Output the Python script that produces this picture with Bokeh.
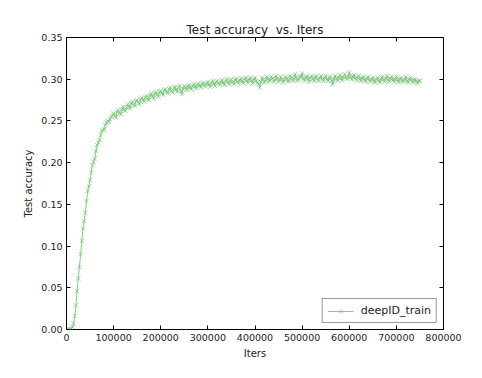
from bokeh.plotting import figure
from bokeh.models import Range1d, NumeralTickFormatter, LinearAxis, FixedTicker, Legend, LegendItem, CustomJSTickFormatter
from bokeh.embed import file_html
from bokeh.resources import INLINE

# test runs every 5000 iterations (0 .. 750000)
iters_a = list(range(0, 750001, 5000))
accuracy_a = [
    0.000, 0.000, 0.001, 0.007, 0.029, 0.061, 0.090, 0.121, 0.140, 0.166,
    0.179, 0.197, 0.205, 0.221, 0.227, 0.238, 0.240, 0.248, 0.249, 0.255,
    0.259, 0.254, 0.263, 0.258, 0.267, 0.262, 0.270, 0.265, 0.273, 0.268,
    0.275, 0.270, 0.278, 0.273, 0.280, 0.275, 0.283, 0.277, 0.285, 0.279,
    0.286, 0.281, 0.288, 0.283, 0.290, 0.284, 0.291, 0.285, 0.292, 0.282,
    0.292, 0.287, 0.293, 0.288, 0.294, 0.289, 0.295, 0.290, 0.296, 0.291,
    0.297, 0.291, 0.298, 0.292, 0.298, 0.293, 0.299, 0.293, 0.300, 0.294,
    0.300, 0.294, 0.301, 0.295, 0.301, 0.295, 0.302, 0.296, 0.302, 0.295,
    0.302, 0.296, 0.290, 0.302, 0.296, 0.303, 0.297, 0.303, 0.297, 0.304,
    0.297, 0.303, 0.296, 0.303, 0.297, 0.304, 0.298, 0.306, 0.298, 0.304,
    0.307, 0.298, 0.304, 0.297, 0.304, 0.298, 0.304, 0.298, 0.304, 0.298,
    0.304, 0.298, 0.303, 0.294, 0.304, 0.298, 0.305, 0.299, 0.306, 0.300,
    0.308, 0.300, 0.305, 0.299, 0.304, 0.298, 0.303, 0.297, 0.303, 0.297,
    0.302, 0.296, 0.302, 0.296, 0.303, 0.297, 0.304, 0.297, 0.303, 0.297,
    0.303, 0.296, 0.302, 0.297, 0.303, 0.296, 0.302, 0.296, 0.300, 0.295,
    0.298,
]
# intermediate test runs (2500 .. 747500)
iters_b = list(range(2500, 750000, 5000))
accuracy_b = [
    0.000, 0.000, 0.003, 0.016, 0.046, 0.075, 0.106, 0.130, 0.154, 0.172,
    0.188, 0.201, 0.214, 0.224, 0.233, 0.239, 0.245, 0.250, 0.252, 0.257,
    0.256, 0.261, 0.259, 0.264, 0.263, 0.266, 0.267, 0.271, 0.269, 0.274,
    0.271, 0.276, 0.275, 0.278, 0.276, 0.281, 0.279, 0.283, 0.281, 0.285,
    0.283, 0.287, 0.285, 0.288, 0.286, 0.289, 0.287, 0.290, 0.286, 0.288,
    0.290, 0.291, 0.289, 0.292, 0.291, 0.293, 0.292, 0.294, 0.293, 0.295,
    0.293, 0.296, 0.294, 0.297, 0.295, 0.297, 0.295, 0.298, 0.296, 0.298,
    0.296, 0.299, 0.297, 0.299, 0.297, 0.300, 0.298, 0.300, 0.298, 0.300,
    0.298, 0.294, 0.297, 0.300, 0.298, 0.301, 0.299, 0.301, 0.299, 0.301,
    0.299, 0.300, 0.299, 0.301, 0.299, 0.302, 0.300, 0.302, 0.300, 0.302,
    0.301, 0.302, 0.300, 0.302, 0.300, 0.302, 0.300, 0.302, 0.300, 0.302,
    0.300, 0.302, 0.298, 0.300, 0.301, 0.302, 0.301, 0.303, 0.302, 0.303,
    0.302, 0.303, 0.301, 0.302, 0.300, 0.301, 0.299, 0.301, 0.299, 0.300,
    0.298, 0.300, 0.298, 0.300, 0.299, 0.301, 0.299, 0.301, 0.299, 0.300,
    0.299, 0.300, 0.298, 0.300, 0.298, 0.300, 0.298, 0.299, 0.297, 0.298,
]
x_ticks = [0, 100000, 200000, 300000, 400000, 500000, 600000, 700000, 800000]
y_ticks = [0.00, 0.05, 0.10, 0.15, 0.20, 0.25, 0.30, 0.35]
series_name = "deepID_train"
title_text = "Test accuracy\u00a0 vs. Iters"

pairs = sorted(zip(iters_a + iters_b, accuracy_a + accuracy_b))
iters = [a for a, _ in pairs]
accuracy = [b for _, b in pairs]

FONT = "DejaVu Sans"
GREEN = "#78c478"

p = figure(width=474, height=370, output_backend="svg", toolbar_location=None,
           x_range=Range1d(0, 800000), y_range=Range1d(0, 0.35),
           title=title_text, x_axis_label="Iters", y_axis_label="Test accuracy")
p.min_border_left = 66
p.min_border_right = 31
p.min_border_top = 37
p.min_border_bottom = 41
p.background_fill_color = "white"
p.border_fill_color = "white"
p.outline_line_color = "black"
p.outline_line_width = 1
p.xgrid.visible = False
p.ygrid.visible = False

p.title.align = "center"
p.title.text_font = FONT
p.title.text_font_size = "12px"
p.title.text_font_style = "normal"
p.title.text_color = "#222222"
p.title.offset = 0
p.title.standoff = 2

for ax in (p.xaxis[0], p.yaxis[0]):
    ax.axis_line_color = None
    ax.major_tick_in = 4
    ax.major_tick_out = 0
    ax.minor_tick_line_color = None
    ax.major_label_text_font = FONT
    ax.major_label_text_font_size = "9.5px"
    ax.major_label_text_color = "#222222"
    ax.axis_label_text_font = FONT
    ax.axis_label_text_font_size = "10px"
    ax.axis_label_text_font_style = "normal"
    ax.axis_label_text_color = "#222222"
    ax.major_label_standoff = 4
    ax.axis_label_standoff = 4

p.xaxis.ticker = FixedTicker(ticks=x_ticks)
p.yaxis.ticker = FixedTicker(ticks=y_ticks)
p.xaxis.formatter = NumeralTickFormatter(format="0")
p.yaxis.formatter = NumeralTickFormatter(format="0.00")

blank = CustomJSTickFormatter(code="return ''")
top = LinearAxis(ticker=FixedTicker(ticks=x_ticks), axis_line_color=None,
                 major_tick_in=4, major_tick_out=0, minor_tick_line_color=None,
                 formatter=blank, major_label_standoff=0)
right = LinearAxis(ticker=FixedTicker(ticks=y_ticks), axis_line_color=None,
                   major_tick_in=4, major_tick_out=0, minor_tick_line_color=None,
                   formatter=blank, major_label_standoff=0)
p.add_layout(top, "above")
p.add_layout(right, "right")

ln = p.line(iters, accuracy, line_color=GREEN, line_width=1, line_alpha=0.9)
sc = p.scatter(iters, accuracy, marker="x", size=6, line_color=GREEN, line_width=1, line_alpha=0.7)

legend = Legend(items=[LegendItem(label=series_name, renderers=[ln, sc])],
                location="bottom_right")
legend.margin = 6
legend.padding = 5
legend.spacing = 0
legend.border_line_color = "#333333"
legend.border_line_width = 1
legend.label_text_font = FONT
legend.label_text_font_size = "11px"
legend.label_text_color = "#222222"
legend.glyph_width = 26
legend.glyph_height = 12
legend.label_standoff = 7
legend.background_fill_alpha = 1
p.add_layout(legend)

open("out.html", "w").write(file_html(p, INLINE))
